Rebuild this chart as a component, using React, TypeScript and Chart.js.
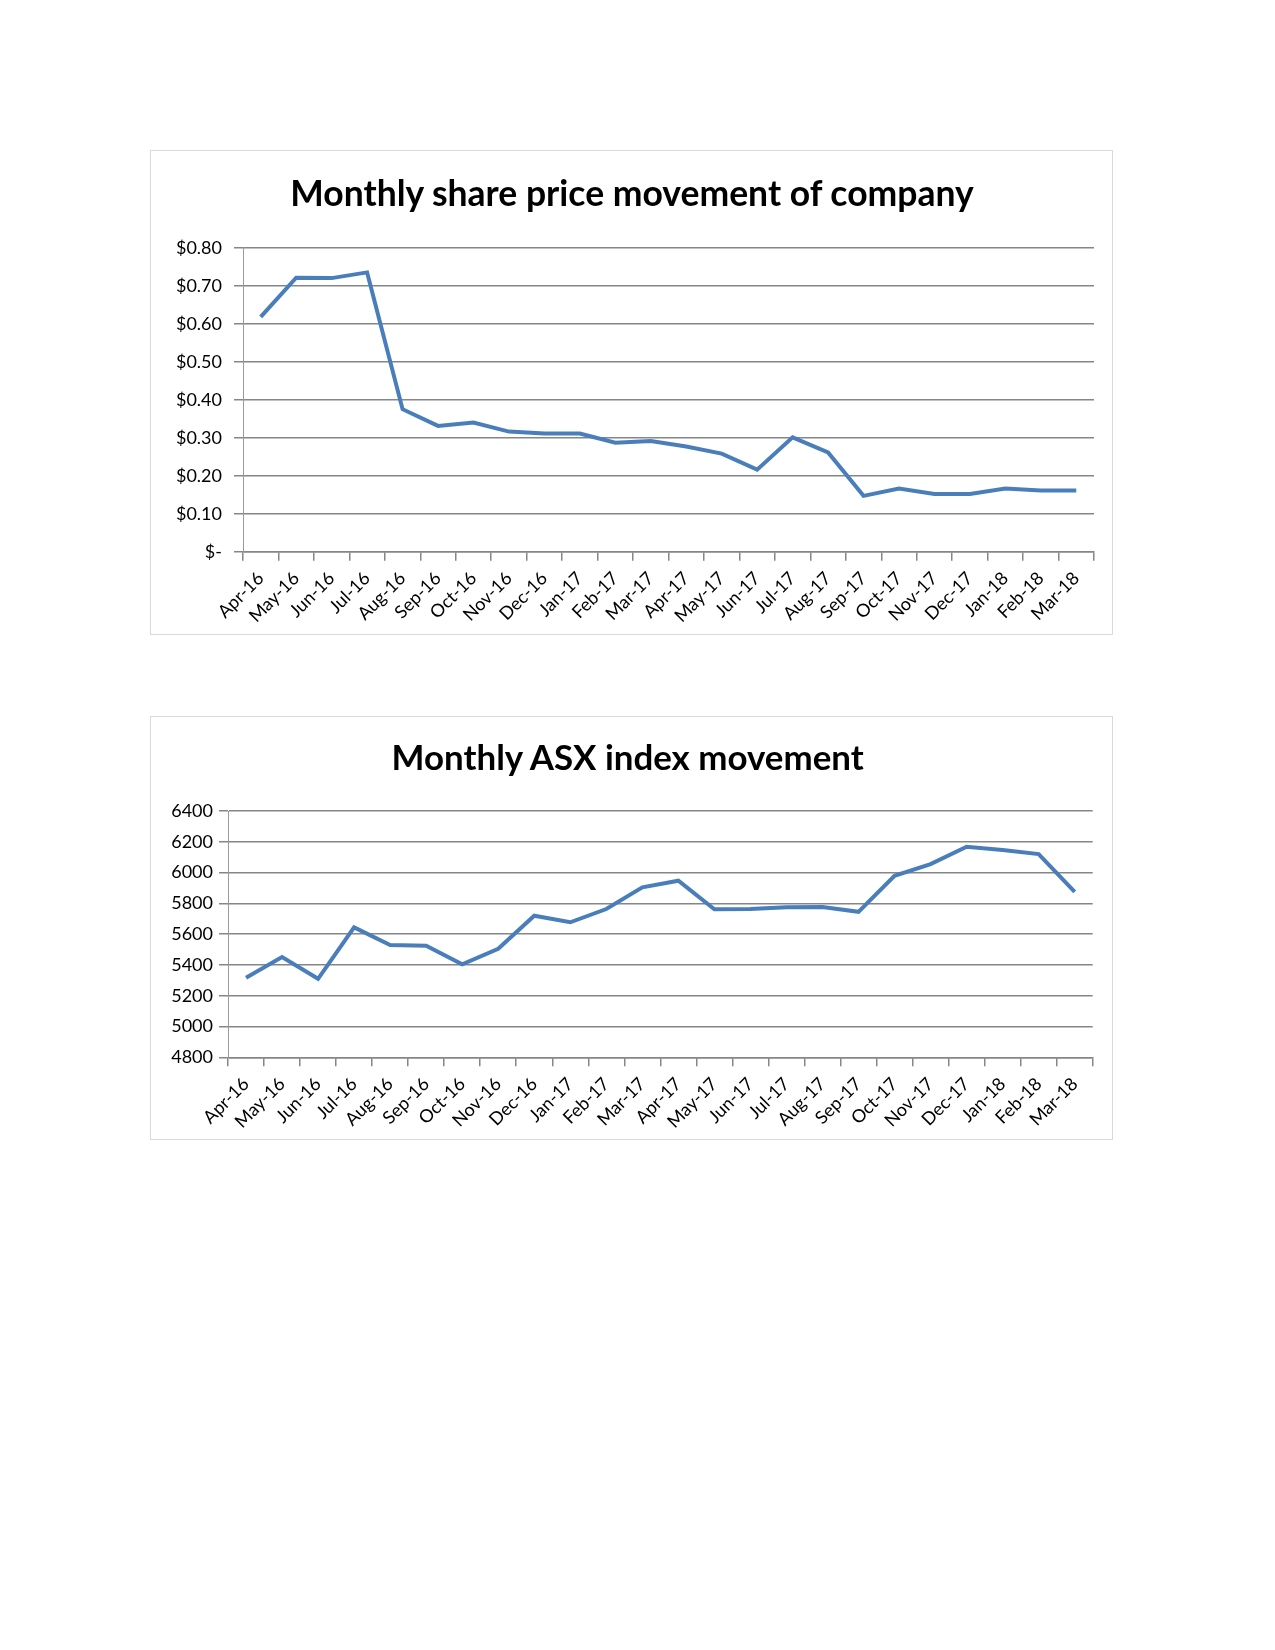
import React, { useEffect, useRef } from "react";
import { Chart, registerables } from "chart.js";

Chart.register(...registerables);

const months: string[] = [
  "Apr-16", "May-16", "Jun-16", "Jul-16", "Aug-16", "Sep-16", "Oct-16", "Nov-16",
  "Dec-16", "Jan-17", "Feb-17", "Mar-17", "Apr-17", "May-17", "Jun-17", "Jul-17",
  "Aug-17", "Sep-17", "Oct-17", "Nov-17", "Dec-17", "Jan-18", "Feb-18", "Mar-18",
];

const sharePrice: number[] = [
  0.618, 0.721, 0.72, 0.735, 0.375, 0.331, 0.34, 0.316, 0.311, 0.311, 0.287, 0.291,
  0.277, 0.258, 0.216, 0.301, 0.261, 0.147, 0.166, 0.152, 0.152, 0.166, 0.161, 0.161,
];

const asxIndex: number[] = [
  5317, 5451, 5310, 5644, 5529, 5525, 5404, 5505, 5720, 5677, 5763, 5904,
  5947, 5761, 5763, 5774, 5777, 5745, 5979, 6055, 6168, 6146, 6120, 5875,
];

const shareTitle = "Monthly share price movement of company";
const asxTitle = "Monthly ASX index movement";

const BLUE = "#4a7ebb";
const GRID = "#868686";
const FONT = "Lato";

type Dims = {
  w: number; h: number; left: number; right: number; top: number; yw: number; xh: number; ypad: number;
};

function makeChart(
  canvas: HTMLCanvasElement,
  values: number[],
  yMin: number,
  yMax: number,
  step: number,
  fmt: (v: number) => string,
  d: Dims
) {
  return new Chart(canvas, {
    type: "line",
    data: {
      labels: months,
      datasets: [
        {
          data: values,
          borderColor: BLUE,
          borderWidth: 4,
          pointRadius: 0,
          tension: 0,
          fill: false,
        },
      ],
    },
    options: {
      animation: false,
      responsive: false,
      maintainAspectRatio: false,
      devicePixelRatio: 1,
      layout: { padding: { left: d.left, right: d.right, top: d.top, bottom: 0 } },
      plugins: {
        legend: { display: false },
        tooltip: { enabled: false },
        title: { display: false },
      },
      scales: {
        x: {
          type: "category",
          offset: true,
          grid: {
            offset: true,
            drawOnChartArea: false,
            drawTicks: true,
            tickLength: 9,
            color: GRID,
            lineWidth: 1.5,
          },
          border: { display: true, color: GRID, width: 1.5 },
          ticks: {
            maxRotation: 45,
            minRotation: 45,
            autoSkip: false,
            font: { family: FONT, size: 18 },
            color: "#000",
            padding: 7,
          },
          afterFit: (s: any) => {
            s.height = d.xh;
          },
        },
        y: {
          min: yMin,
          max: yMax,
          ticks: {
            stepSize: step,
            callback: (v: any) => fmt(Number(v)),
            font: { family: FONT, size: 18 },
            color: "#000",
            padding: d.ypad,
          },
          grid: { color: GRID, lineWidth: 1.5, tickLength: 9, drawTicks: true },
          border: { display: true, color: "#9a9a9a", width: 1 },
          afterFit: (s: any) => {
            s.width = d.yw;
          },
        },
      },
    },
  });
}

function ChartBox(props: {
  top: number;
  height: number;
  title: string;
  titleCenter: number;
  titleTop: number;
  titleSize: number;
  values: number[];
  yMin: number;
  yMax: number;
  step: number;
  fmt: (v: number) => string;
  dims: Dims;
}) {
  const ref = useRef<HTMLCanvasElement>(null);
  useEffect(() => {
    if (!ref.current) return;
    const c = makeChart(ref.current, props.values, props.yMin, props.yMax, props.step, props.fmt, props.dims);
    return () => c.destroy();
  }, []);
  return (
    <>
      <div
        style={{
          position: "absolute",
          left: 142,
          top: props.top,
          width: 963,
          height: props.height,
          border: "1px solid #d9d9d9",
          boxSizing: "border-box",
          background: "#fff",
        }}
      >
        <canvas
          ref={ref}
          width={props.dims.w}
          height={props.dims.h}
          style={{ position: "absolute", left: 0, top: 0, width: props.dims.w, height: props.dims.h }}
        />
      </div>
      <div
        style={{
          position: "absolute",
          left: props.titleCenter - 400,
          width: 800,
          top: props.titleTop,
          textAlign: "center",
          fontFamily: FONT,
          fontWeight: 700,
          fontSize: props.titleSize,
          lineHeight: 1,
          whiteSpace: "nowrap",
          color: "#000",
        }}
      >
        {props.title}
      </div>
    </>
  );
}

const fmtDollar = (v: number) => (Math.abs(v) < 1e-9 ? "$-" : "$" + v.toFixed(2));
const fmtPlain = (v: number) => String(Math.round(v));

export default function App() {
  return (
    <div style={{ position: "relative", width: 1259, height: 1600, background: "#fff" }}>
      <ChartBox
        top={142}
        height={485}
        title={shareTitle}
        titleCenter={624}
        titleTop={166.8}
        titleSize={35.5}
        values={sharePrice}
        yMin={0}
        yMax={0.8}
        step={0.1}
        fmt={fmtDollar}
        dims={{ w: 961, h: 483, left: 8, right: 18, top: 96.7, yw: 84, xh: 82.3, ypad: 12 }}
      />
      <ChartBox
        top={708}
        height={424}
        title={asxTitle}
        titleCenter={619.7}
        titleTop={732.3}
        titleSize={34.9}
        values={asxIndex}
        yMin={4800}
        yMax={6400}
        step={200}
        fmt={fmtPlain}
        dims={{ w: 961, h: 422, left: 8, right: 19.3, top: 94, yw: 69, xh: 81.7, ypad: 6 }}
      />
    </div>
  );
}
